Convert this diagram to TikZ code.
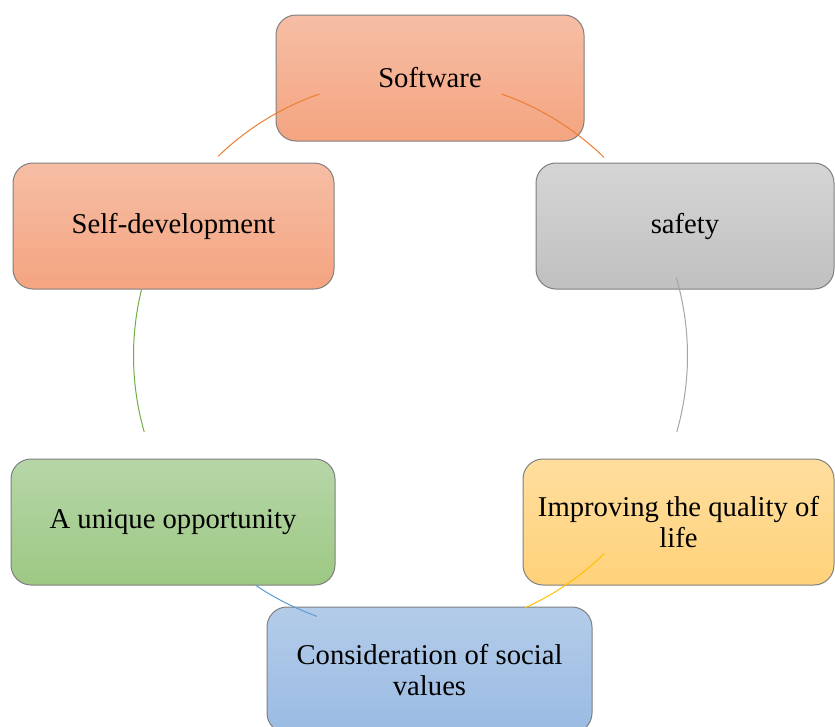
\documentclass[tikz,border=0pt]{standalone}
\usepackage{fontspec}
\setmainfont{Liberation Serif}
\usepackage{xcolor}
\usepackage{tikz}

\definecolor{boxline}{RGB}{127,127,127}
\definecolor{arcorange}{RGB}{237,125,49}
\definecolor{arcgray}{RGB}{165,165,165}
\definecolor{arcgold}{RGB}{255,192,0}
\definecolor{arcblue}{RGB}{91,155,213}
\definecolor{arcgreen}{RGB}{112,173,71}

\tikzset{
  cyclebox/.style={draw=boxline, line width=0.75, rounded corners=15pt,
    minimum height=94.5pt, inner sep=0.75pt, align=center,
    font=\fontsize{21.5}{23.25}\selectfont},
  orangebox/.style={cyclebox, top color={rgb,255:red,246;green,190;blue,165}, bottom color={rgb,255:red,244;green,164;blue,128}},
  graybox/.style={cyclebox, top color={rgb,255:red,213;green,213;blue,213}, bottom color={rgb,255:red,192;green,192;blue,192}},
  greenbox/.style={cyclebox, top color={rgb,255:red,182;green,214;blue,168}, bottom color={rgb,255:red,157;green,200;blue,131}},
  goldbox/.style={cyclebox, top color={rgb,255:red,255;green,222;blue,158}, bottom color={rgb,255:red,255;green,210;blue,122}},
  bluebox/.style={cyclebox, top color={rgb,255:red,179;green,204;blue,233}, bottom color={rgb,255:red,155;green,187;blue,227}},
  cyclearc/.style={line width=0.75}
}

\begin{document}
\begin{tikzpicture}[x=0.75pt,y=0.75pt,yscale=-1,xscale=1]
\path[use as bounding box] (0,0) rectangle (835,726);
\clip (0,0) rectangle (835,726);

% Rounded Rect
\node [orangebox, minimum width=231pt] (soft) at (430,78) {Software};
% Rounded Rect
\node [graybox, minimum width=223.5pt] (safe) at (685,226) {safety};
% Rounded Rect
\node [goldbox, minimum width=233.25pt] (life) at (678.5,522) {Improving the quality of\\life};
% Rounded Rect
\node [bluebox, minimum width=243.75pt] (social) at (429.5,670) {Consideration of social\\values};
% Rounded Rect
\node [greenbox, minimum width=243pt] (unique) at (173,522) {A unique opportunity};
% Rounded Rect
\node [orangebox, minimum width=240.75pt] (self) at (173.5,226) {Self-development};

% centre of the cycle
\coordinate (hub) at (410.5,355.6);

%Arc Lines
\draw [cyclearc, arcorange] (hub) ++(-70.8:277) arc [start angle=-70.8, end angle=-45.7, radius=277];
\draw [cyclearc, arcgray] (hub) ++(-16.4:277) arc [start angle=-16.4, end angle=16, radius=277];
\draw [cyclearc, arcgold] (hub) ++(45.6:277) arc [start angle=45.6, end angle=65.5, radius=277];
\draw [cyclearc, arcblue] (hub) ++(109.7:277) arc [start angle=109.7, end angle=124, radius=277];
\draw [cyclearc, arcgreen] (hub) ++(164:277) arc [start angle=164, end angle=193.7, radius=277];
\draw [cyclearc, arcorange] (hub) ++(226:277) arc [start angle=226, end angle=250.8, radius=277];

\end{tikzpicture}
\end{document}
